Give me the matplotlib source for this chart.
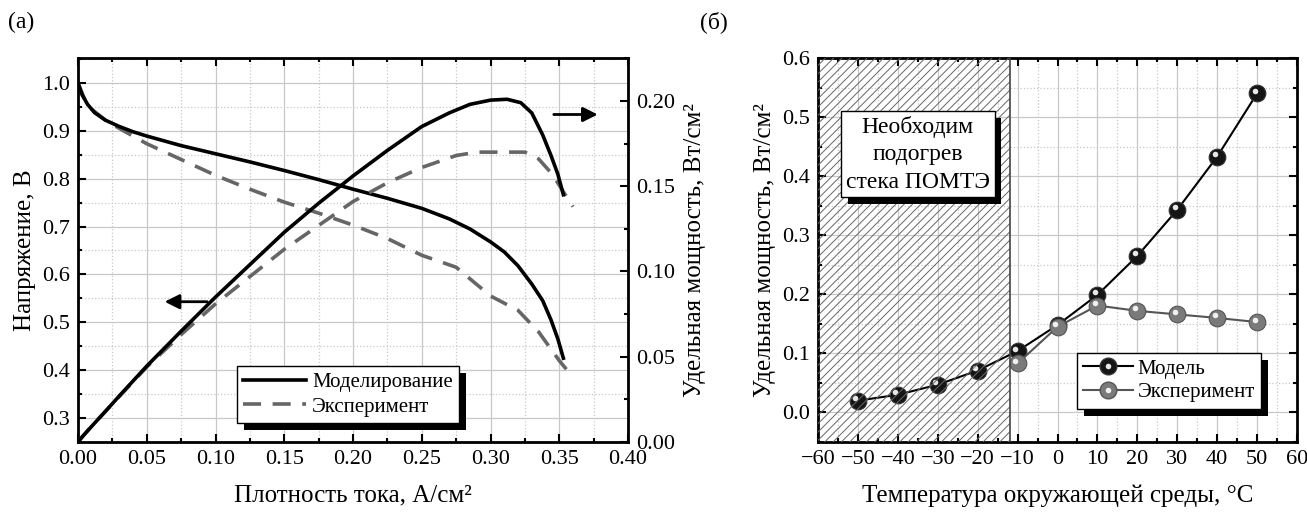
import numpy as np
import matplotlib
matplotlib.use("Agg")
import matplotlib.pyplot as plt
import matplotlib.patheffects as pe
from matplotlib.transforms import offset_copy
from matplotlib.ticker import MultipleLocator, FormatStrFormatter
from matplotlib.legend_handler import HandlerTuple

plt.rcParams['font.family'] = ['Liberation Serif', 'DejaVu Serif']
plt.rcParams['font.size'] = 16
plt.rcParams['hatch.linewidth'] = 0.7
plt.rcParams['axes.unicode_minus'] = True

# ---- panel (a): polarisation and power curves ----
i_model = [0.000, 0.003, 0.007, 0.012, 0.020, 0.030, 0.040, 0.050, 0.075, 0.100, 0.125, 0.150,
           0.175, 0.200, 0.225, 0.250, 0.270, 0.285, 0.300, 0.310, 0.320, 0.330, 0.338, 0.344,
           0.349, 0.353]
v_model = [1.000, 0.975, 0.955, 0.938, 0.922, 0.909, 0.898, 0.889, 0.869, 0.852, 0.835, 0.817,
           0.798, 0.778, 0.759, 0.738, 0.716, 0.695, 0.668, 0.647, 0.618, 0.580, 0.545, 0.505,
           0.465, 0.425]
ip_model = [0.000, 0.003, 0.012, 0.020, 0.030, 0.050, 0.075, 0.100, 0.125, 0.150, 0.175, 0.200,
            0.225, 0.250, 0.270, 0.285, 0.300, 0.312, 0.322, 0.330, 0.338, 0.344, 0.349, 0.353]
p_model = [0.000, 0.003, 0.011, 0.018, 0.027, 0.0445, 0.065, 0.085, 0.104, 0.123, 0.140, 0.156,
           0.171, 0.185, 0.193, 0.198, 0.2005, 0.201, 0.199, 0.193, 0.180, 0.168, 0.157, 0.145]

i_exp = [0.000, 0.005, 0.010, 0.020, 0.030, 0.050, 0.075, 0.100, 0.125, 0.150, 0.175, 0.200,
         0.225, 0.250, 0.275, 0.300, 0.320, 0.335, 0.350, 0.360]
v_exp = [1.000, 0.965, 0.945, 0.922, 0.905, 0.873, 0.840, 0.807, 0.778, 0.751, 0.728, 0.703,
         0.675, 0.640, 0.615, 0.555, 0.525, 0.480, 0.420, 0.385]
ip_exp = [0.000, 0.010, 0.020, 0.050, 0.075, 0.100, 0.125, 0.150, 0.175, 0.200, 0.225, 0.250,
          0.275, 0.290, 0.310, 0.325, 0.335, 0.345, 0.352, 0.360]
p_exp = [0.000, 0.0095, 0.018, 0.044, 0.063, 0.081, 0.097, 0.113, 0.127, 0.141, 0.152, 0.161,
         0.168, 0.170, 0.170, 0.170, 0.166, 0.157, 0.148, 0.138]

# ---- panel (б): power vs ambient temperature ----
t_model = [-50, -40, -30, -20, -10, 0, 10, 20, 30, 40, 50]
pw_model = [0.020, 0.030, 0.047, 0.071, 0.104, 0.148, 0.199, 0.265, 0.343, 0.433, 0.540]
t_exp = [-10, 0, 10, 20, 30, 40, 50]
pw_exp = [0.083, 0.145, 0.181, 0.172, 0.166, 0.160, 0.153]
t_heat = -12  # upper bound of the heating zone

fig = plt.figure(figsize=(13.07, 5.12), dpi=100)
W, H = 1307, 512


def px_axes(x0, x1, y0, y1):
    return fig.add_axes([x0 / W, 1 - y1 / H, (x1 - x0) / W, (y1 - y0) / H])


def style_ticks(ax, right=True):
    ax.tick_params(which='both', direction='in', top=True, right=right, width=1.5)
    ax.tick_params(which='major', length=6, pad=6)
    ax.tick_params(which='minor', length=3)
    for s in ax.spines.values():
        s.set_linewidth(2)


def shadow():
    return [pe.SimplePatchShadow(offset=(5, -5), shadow_rgbFace='k', alpha=1.0), pe.Normal()]


# left panel
ax1 = px_axes(78, 628, 58, 442)
ax1.plot(i_model, v_model, color='black', lw=2.6, zorder=5, label='Моделирование')
ax1.plot(i_exp, v_exp, color='#666666', lw=2.6, ls=(0, (5, 3.2)), zorder=4, label='Эксперимент')
ax1.set_xlim(0, 0.40)
ax1.set_ylim(0.25, 1.052)
ax1.xaxis.set_major_locator(MultipleLocator(0.05))
ax1.xaxis.set_minor_locator(MultipleLocator(0.025))
ax1.yaxis.set_major_locator(MultipleLocator(0.1))
ax1.yaxis.set_minor_locator(MultipleLocator(0.05))
ax1.xaxis.set_major_formatter(FormatStrFormatter('%.2f'))
ax1.yaxis.set_major_formatter(FormatStrFormatter('%.1f'))
ax1.grid(which='major', color='#c8c8c8', lw=0.9)
ax1.grid(which='minor', color='#c8c8c8', lw=0.9, ls=':')
style_ticks(ax1, right=False)
ax1.set_xlabel('Плотность тока, А/см²', fontsize=18, labelpad=11)
ax1.set_ylabel('Напряжение, В', fontsize=18, labelpad=4)

ax1r = ax1.twinx()
ax1r.plot(ip_model, p_model, color='black', lw=2.6, zorder=5)
ax1r.plot(ip_exp, p_exp, color='#666666', lw=2.6, ls=(0, (5, 3.2)), zorder=4)
ax1r.set_ylim(0, 0.2252)
ax1r.yaxis.set_major_locator(MultipleLocator(0.05))
ax1r.yaxis.set_minor_locator(MultipleLocator(0.025))
ax1r.yaxis.set_major_formatter(FormatStrFormatter('%.2f'))
ax1r.tick_params(which='both', direction='in', width=1.5)
ax1r.tick_params(which='major', length=6, pad=6)
ax1r.tick_params(which='minor', length=3)
ax1r.set_ylabel('Удельная мощность, Вт/см²', fontsize=18, labelpad=6)

ax1.annotate('', xy=(0.061, 0.543), xytext=(0.096, 0.543),
             arrowprops=dict(arrowstyle='-|>', color='black', lw=2, mutation_scale=22))
ax1.annotate('', xy=(0.380, 0.934), xytext=(0.344, 0.934),
             arrowprops=dict(arrowstyle='-|>', color='black', lw=2, mutation_scale=22))

leg1 = ax1.legend(loc='upper left', bbox_to_anchor=(0.289, 0.198), fontsize=15,
                  frameon=True, fancybox=False, edgecolor='black', framealpha=1,
                  handlelength=3.0, borderaxespad=0, borderpad=0.3, labelspacing=0.25,
                  handletextpad=0.3)
leg1.get_frame().set_linewidth(1.0)
leg1.get_frame().set_path_effects(shadow())
leg1.set_zorder(10)

fig.text(8 / W, 1 - 22 / H, '(а)', fontsize=17, va='center', ha='left')

# right panel
ax2 = px_axes(818, 1297, 58, 442)
ax2.axvspan(-60, t_heat, facecolor='none', edgecolor='#666666', hatch='////', lw=0, zorder=6)
ax2.axvline(t_heat, color='#444444', lw=1.2, zorder=6)

ax2.plot(t_model, pw_model, color='black', lw=1.5, marker='o', ms=12,
         mfc='#151515', mec='#333333', mew=0.8, zorder=3)
ax2.plot(t_model, pw_model, ls='none', marker='o', ms=4, mfc='#e8e8e8', mec='none',
         transform=offset_copy(ax2.transData, fig=fig, x=-2.5, y=2.5, units='dots'), zorder=3.1)
ax2.plot(t_exp, pw_exp, color='#555555', lw=1.5, marker='o', ms=12,
         mfc='#7a7a7a', mec='#555555', mew=0.8, zorder=4)
ax2.plot(t_exp, pw_exp, ls='none', marker='o', ms=4, mfc='#f0f0f0', mec='none',
         transform=offset_copy(ax2.transData, fig=fig, x=-2.5, y=2.5, units='dots'), zorder=4.1)

ax2.set_xlim(-60, 60)
ax2.set_ylim(-0.05, 0.6)
ax2.xaxis.set_major_locator(MultipleLocator(10))
ax2.xaxis.set_minor_locator(MultipleLocator(5))
ax2.yaxis.set_major_locator(MultipleLocator(0.1))
ax2.yaxis.set_minor_locator(MultipleLocator(0.05))
ax2.yaxis.set_major_formatter(FormatStrFormatter('%.1f'))
ax2.grid(which='major', color='#c8c8c8', lw=0.9)
ax2.grid(which='minor', color='#c8c8c8', lw=0.9, ls=':')
style_ticks(ax2)
ax2.set_xlabel('Температура окружающей среды, °C', fontsize=18, labelpad=11)
ax2.set_ylabel('Удельная мощность, Вт/см²', fontsize=18, labelpad=4)

txt = ax2.text(-35, 0.437, 'Необходим\nподогрев\nстека ПОМТЭ', fontsize=17, ha='center',
               va='center', linespacing=1.4, zorder=12,
               bbox=dict(boxstyle='square,pad=0.2', fc='white', ec='black', lw=1.0))
txt.get_bbox_patch().set_path_effects(shadow())

m_leg = plt.Line2D([], [], color='black', lw=1.5, marker='o', ms=12, mfc='#151515', mec='#333333')
m_hi = plt.Line2D([], [], ls='none', marker='o', ms=4, mfc='#e8e8e8', mec='none')
e_leg = plt.Line2D([], [], color='#555555', lw=1.5, marker='o', ms=12, mfc='#7a7a7a', mec='#555555')
e_hi = plt.Line2D([], [], ls='none', marker='o', ms=4, mfc='#f0f0f0', mec='none')
leg2 = ax2.legend([(m_leg, m_hi), (e_leg, e_hi)], ['Модель', 'Эксперимент'],
                  handler_map={tuple: HandlerTuple(ndivide=1)},
                  loc='upper left', bbox_to_anchor=(0.541, 0.232), fontsize=15,
                  frameon=True, fancybox=False, edgecolor='black', framealpha=1,
                  handlelength=2.4, borderaxespad=0, borderpad=0.3, labelspacing=0.2,
                  handletextpad=0.2)
leg2.get_frame().set_linewidth(1.0)
leg2.get_frame().set_path_effects(shadow())
leg2.set_zorder(12)

fig.text(700 / W, 1 - 22 / H, '(б)', fontsize=17, va='center', ha='left')

fig.savefig('out.png', dpi=100)
